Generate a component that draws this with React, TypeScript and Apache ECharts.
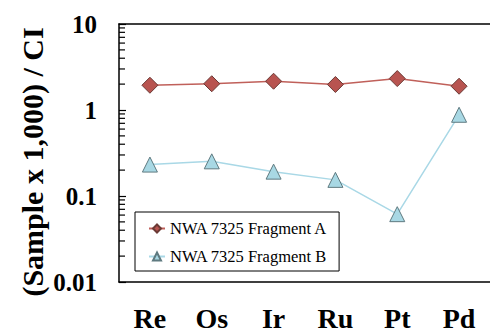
import React, { useEffect, useRef } from "react";
import * as echarts from "echarts";

const categories = ["Re", "Os", "Ir", "Ru", "Pt", "Pd"];
const fragmentA = [1.94, 2.02, 2.16, 1.98, 2.32, 1.89];
const fragmentB = [0.232, 0.253, 0.192, 0.154, 0.0615, 0.88];
const seriesNames = ["NWA 7325 Fragment A", "NWA 7325 Fragment B"];
const minorTickValues = [
  0.02, 0.03, 0.04, 0.05, 0.06, 0.07, 0.08, 0.09,
  0.2, 0.3, 0.4, 0.5, 0.6, 0.7, 0.8, 0.9,
  2, 3, 4, 5, 6, 7, 8, 9,
];
const yTitle = "(Sample x 1,000) / CI";

const SERIF = "Times New Roman, Liberation Serif, DejaVu Serif, serif";

export default function App() {
  const ref = useRef<HTMLDivElement>(null);
  useEffect(() => {
    if (!ref.current) return;
    const chart = echarts.init(ref.current, null, { renderer: "svg" });
    chart.setOption({
      animation: false,
      backgroundColor: "#ffffff",
      textStyle: { fontFamily: SERIF },
      grid: { left: 119, top: 24, width: 376, bottom: 48, containLabel: false },
      graphic: [
        {
          type: "text",
          x: 32,
          y: 162,
          rotation: Math.PI / 2,
          style: {
            text: yTitle,
            fontFamily: SERIF,
            fontWeight: "bold",
            fontSize: 30,
            fill: "#000",
            align: "center",
            verticalAlign: "middle",
          },
        },
      ],
      legend: {
        data: seriesNames,
        orient: "vertical",
        left: 135,
        top: 212,
        backgroundColor: "#ffffff",
        borderColor: "#000000",
        borderWidth: 1,
        padding: [8, 11, 6, 13],
        itemGap: 11,
        itemWidth: 16,
        itemHeight: 10,
        textStyle: { fontFamily: SERIF, fontSize: 16.5, color: "#000" },
      },
      xAxis: [
        {
          type: "category",
          data: categories,
          position: "bottom",
          boundaryGap: true,
          axisLine: { lineStyle: { color: "#000", width: 1.5 } },
          axisTick: { inside: true, length: 7, lineStyle: { color: "#000", width: 1.2 } },
          axisLabel: {
            fontFamily: SERIF,
            fontWeight: "bold",
            fontSize: 28,
            color: "#000",
            margin: 22,
          },
          splitLine: { show: false },
        },
        {
          type: "category",
          data: categories,
          position: "top",
          boundaryGap: true,
          axisLine: { lineStyle: { color: "#000", width: 1.5 } },
          axisTick: { inside: true, length: 5, lineStyle: { color: "#000", width: 1.2 } },
          axisLabel: { show: false },
          splitLine: { show: false },
        },
      ],
      yAxis: {
        type: "log",
        logBase: 10,
        min: 0.01,
        max: 10,
        splitNumber: 3,
        axisLine: { show: true, lineStyle: { color: "#000", width: 1.5 } },
        axisTick: { show: true, inside: true, length: 7, lineStyle: { color: "#000", width: 1.2 } },
        axisLabel: {
          fontFamily: SERIF,
          fontWeight: "bold",
          fontSize: 25,
          color: "#000",
          margin: 22,
          formatter: (v: number) => String(+v.toPrecision(2)),
        },
        splitLine: { show: false },
      },
      series: [
        {
          name: seriesNames[0],
          type: "line",
          data: fragmentA,
          symbol: "diamond",
          symbolSize: 16,
          lineStyle: { color: "#c0605a", width: 1.5 },
          itemStyle: { color: "#b85450", borderColor: "#6b3a35", borderWidth: 1 },
          z: 3,
        },
        {
          name: seriesNames[1],
          type: "line",
          data: fragmentB,
          symbol: "triangle",
          symbolSize: 15,
          lineStyle: { color: "#a9d8e6", width: 1.5 },
          itemStyle: { color: "#a8d8e4", borderColor: "#5f7a80", borderWidth: 1 },
          z: 3,
        },
        {
          type: "custom",
          name: "minorTicks",
          xAxisIndex: 0,
          yAxisIndex: 0,
          silent: true,
          clip: false,
          data: minorTickValues.map((v) => [0, v]),
          renderItem: (params: any, api: any) => {
            const y = api.coord([0, api.value(1)])[1];
            const x0 = params.coordSys.x;
            return {
              type: "line",
              shape: { x1: x0, y1: y, x2: x0 + 6, y2: y },
              style: { stroke: "#000", lineWidth: 1.2 },
            };
          },
        },
      ],
    });
    return () => chart.dispose();
  }, []);
  return (
    <div
      ref={ref}
      style={{ position: "fixed", left: 0, top: 0, width: 490, height: 332 }}
    />
  );
}
